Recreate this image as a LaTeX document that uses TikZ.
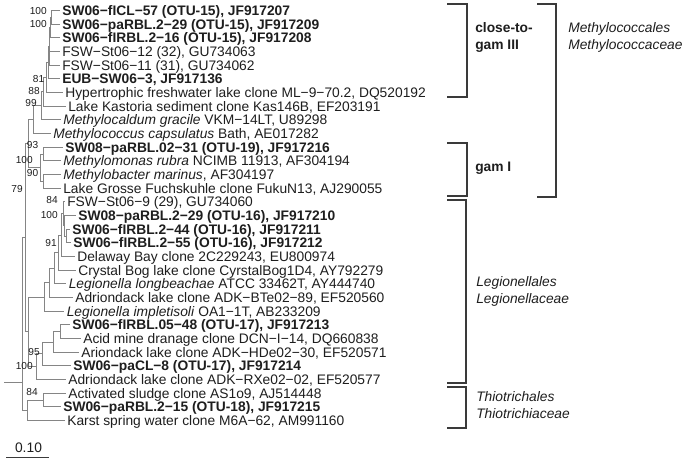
\documentclass[tikz,border=0pt]{standalone}
\usepackage{fontspec}
\setmainfont{Liberation Sans}
\definecolor{txt}{HTML}{1E1E1E}
\definecolor{tree}{HTML}{858585}
\definecolor{brk}{HTML}{3A3A3A}
\tikzset{
  leaf/.style={anchor=west, inner xsep=1.9pt, inner ysep=0pt, text height=7.4pt, text depth=0pt,
    font=\fontsize{10.35}{12}\selectfont, text=txt},
  bleaf/.style={leaf, font=\fontsize{10.35}{12}\selectfont\bfseries},
  boot/.style={anchor=east, inner sep=0pt, text height=5.4pt, text depth=0pt,
    font=\fontsize{7.6}{9}\selectfont, text=txt},
  grp/.style={anchor=west, inner sep=0pt, text height=7.4pt, text depth=0pt,
    font=\fontsize{10.35}{12}\selectfont, text=txt},
  bgrp/.style={grp, font=\fontsize{10.35}{12}\selectfont\bfseries},
  igrp/.style={grp, font=\fontsize{10.35}{12}\selectfont\itshape},
  br/.style={draw=tree, line width=0.75pt},
  bracket/.style={draw=brk, line width=1.5pt},
}
\begin{document}
\begin{tikzpicture}[x=0.75pt, y=-0.75pt]
\fill[white] (0,0) rectangle (686,461);
\useasboundingbox (0,0) rectangle (686,461);

% ---------- leaves ----------
\node[bleaf] (L1)  at (59.5,10.5)  {SW06−fICL−57 (OTU-15), JF917207};
\node[bleaf] (L2)  at (59.5,24.2)  {SW06−paRBL.2−29 (OTU-15), JF917209};
\node[bleaf] (L3)  at (59.5,37.8)  {SW06−fIRBL.2−16 (OTU-15), JF917208};
\node[leaf]  (L4)  at (59.5,51.5)  {FSW−St06−12 (32), GU734063};
\node[leaf]  (L5)  at (59.5,65.2)  {FSW−St06−11 (31), GU734062};
\node[bleaf] (L6)  at (59.5,78.9)  {EUB−SW06−3, JF917136};
\node[leaf]  (L7)  at (62.5,92.5)  {Hypertrophic freshwater lake clone ML−9−70.2, DQ520192};
\node[leaf]  (L8)  at (65.5,106.2) {Lake Kastoria sediment clone Kas146B, EF203191};
\node[leaf]  (L9)  at (60.5,119.9) {\textit{Methylocaldum gracile} VKM−14LT, U89298};
\node[leaf]  (L10) at (50.5,133.5) {\textit{Methylococcus capsulatus} Bath, AE017282};
\node[bleaf] (L11) at (62.5,147.2) {SW08−paRBL.02−31 (OTU-19), JF917216};
\node[leaf]  (L12) at (60.5,160.9) {\textit{Methylomonas rubra} NCIMB 11913, AF304194};
\node[leaf]  (L13) at (60.5,174.5) {\textit{Methylobacter marinus}, AF304197};
\node[leaf]  (L14) at (60.5,188.2) {Lake Grosse Fuchskuhle clone FukuN13, AJ290055};
\node[leaf]  (L15) at (64.5,201.9) {FSW−St06−9 (29), GU734060};
\node[bleaf] (L16) at (75.5,215.6) {SW08−paRBL.2−29 (OTU-16), JF917210};
\node[bleaf] (L17) at (69.5,229.2) {SW06−fIRBL.2−44 (OTU-16), JF917211};
\node[bleaf] (L18) at (70.5,242.9) {SW06−fIRBL.2−55 (OTU-16), JF917212};
\node[leaf]  (L19) at (74.5,256.6) {Delaway Bay clone 2C229243, EU800974};
\node[leaf]  (L20) at (75.5,270.2) {Crystal Bog lake clone CyrstalBog1D4, AY792279};
\node[leaf]  (L21) at (66,283.9)   {\textit{Legionella longbeachae} ATCC 33462T, AY444740};
\node[leaf]  (L22) at (72.5,297.6) {Adriondack lake clone ADK−BTe02−89, EF520560};
\node[leaf]  (L23) at (64,311.2)   {\textit{Legionella impletisoli} OA1−1T, AB233209};
\node[bleaf] (L24) at (69.5,324.9) {SW06−fIRBL.05−48 (OTU-17), JF917213};
\node[leaf]  (L25) at (80.5,338.6) {Acid mine dranage clone DCN−I−14, DQ660838};
\node[leaf]  (L26) at (78.5,352.2) {Ariondack lake clone ADK−HDe02−30, EF520571};
\node[bleaf] (L27) at (70.5,365.9) {SW06−paCL−8 (OTU-17), JF917214};
\node[leaf]  (L28) at (65.5,379.6) {Adriondack lake clone ADK−RXe02−02, EF520577};
\node[leaf]  (L29) at (65.5,393.2) {Activated sludge clone AS1o9, AJ514448};
\node[bleaf] (L30) at (60.5,406.9) {SW06−paRBL.2−15 (OTU-18), JF917215};
\node[leaf]  (L31) at (64.5,420.6) {Karst spring water clone M6A−62, AM991160};

% ---------- internal nodes ----------
\coordinate (Na)    at (51.5,17.35);
\coordinate (Nb)    at (50.5,27.6);
\coordinate (Nc)    at (49.5,46.4);
\coordinate (N81)   at (48.5,62.65);
\coordinate (N88)   at (46,77.6);
\coordinate (N99)   at (43,91.9);
\coordinate (Nmg)   at (41,105.9);
\coordinate (Nmcc)  at (33,119.7);
\coordinate (N93)   at (43,154.05);
\coordinate (N90)   at (43,181.35);
\coordinate (Ng)    at (40.5,167.7);
\coordinate (M)     at (28,143.7);
\coordinate (Nq)    at (66,236.05);
\coordinate (Nl100) at (64.5,225.8);
\coordinate (Nl84)  at (63,213.85);
\coordinate (Nd)    at (61.5,235.2);
\coordinate (Ncb)   at (58.5,252.7);
\coordinate (Nlb)   at (54,268.3);
\coordinate (Nadk)  at (49,282.95);
\coordinate (Nimp)  at (44,297.1);
\coordinate (Nacid) at (60,331.75);
\coordinate (Nhde)  at (53,342);
\coordinate (N95)   at (42.5,353.95);
\coordinate (Nl100b) at (36,366.8);
\coordinate (L)     at (28.5,331.95);
\coordinate (N79)   at (25,237.8);
\coordinate (Nt84)  at (43,400.05);
\coordinate (T)     at (27,410.3);
\coordinate (Root)  at (22,382);
\coordinate (Stem)  at (4,382);

% ---------- branches ----------
\draw[br] (Na) |- (L1.west);  \draw[br] (Na) |- (L2.west);
\draw[br] (Nb) |- (Na);       \draw[br] (Nb) |- (L3.west);
\draw[br] (Nc) |- (Nb);       \draw[br] (Nc) |- (L4.west); \draw[br] (Nc) |- (L5.west);
\draw[br] (N81) |- (Nc);      \draw[br] (N81) |- (L6.west);
\draw[br] (N88) |- (N81);     \draw[br] (N88) |- (L7.west);
\draw[br] (N99) |- (N88);     \draw[br] (N99) |- (L8.west);
\draw[br] (Nmg) |- (N99);     \draw[br] (Nmg) |- (L9.west);
\draw[br] (Nmcc) |- (Nmg);    \draw[br] (Nmcc) |- (L10.west);
\draw[br] (N93) |- (L11.west); \draw[br] (N93) |- (L12.west);
\draw[br] (N90) |- (L13.west); \draw[br] (N90) |- (L14.west);
\draw[br] (Ng) |- (N93);      \draw[br] (Ng) |- (N90);
\draw[br] (M) |- (Nmcc);      \draw[br] (M) |- (Ng);

\draw[br] (Nq) |- (L17.west); \draw[br] (Nq) |- (L18.west);
\draw[br] (Nl100) |- (L16.west); \draw[br] (Nl100) |- (Nq);
\draw[br] (Nl84) |- (L15.west); \draw[br] (Nl84) |- (Nl100);
\draw[br] (Nd) |- (Nl84);     \draw[br] (Nd) |- (L19.west);
\draw[br] (Ncb) |- (Nd);      \draw[br] (Ncb) |- (L20.west);
\draw[br] (Nlb) |- (Ncb);     \draw[br] (Nlb) |- (L21.west);
\draw[br] (Nadk) |- (Nlb);    \draw[br] (Nadk) |- (L22.west);
\draw[br] (Nimp) |- (Nadk);   \draw[br] (Nimp) |- (L23.west);
\draw[br] (Nacid) |- (L24.west); \draw[br] (Nacid) |- (L25.west);
\draw[br] (Nhde) |- (Nacid);  \draw[br] (Nhde) |- (L26.west);
\draw[br] (N95) |- (Nhde);    \draw[br] (N95) |- (L27.west);
\draw[br] (Nl100b) |- (N95);  \draw[br] (Nl100b) |- (L28.west);
\draw[br] (L) |- (Nimp);      \draw[br] (L) |- (Nl100b);

\draw[br] (N79) |- (M);       \draw[br] (N79) |- (L);
\draw[br] (Nt84) |- (L29.west); \draw[br] (Nt84) |- (L30.west);
\draw[br] (T) |- (Nt84);      \draw[br] (T) |- (L31.west);
\draw[br] (Root) |- (N79);    \draw[br] (Root) |- (T);
\draw[br] (Stem) -- (Root);

% ---------- bootstrap values ----------
\node[boot] (b1)  at (47,11)   {100};
\node[boot] (b2)  at (47,24)   {100};
\node[boot] (b3)  at (44.5,79) {81};
\node[boot] (b4)  at (40,91)   {88};
\node[boot] (b5)  at (37,103)  {99};
\node[boot] (b6)  at (38.5,145) {93};
\node[boot] (b7)  at (33,160)  {100};
\node[boot] (b8)  at (38.5,173) {90};
\node[boot] (b9)  at (23,189)  {79};
\node[boot] (b10) at (58,200)  {84};
\node[boot] (b11) at (58,215)  {100};
\node[boot] (b12) at (57,243)  {91};
\node[boot] (b13) at (40,352)  {95};
\node[boot] (b14) at (33,366)  {100};
\node[boot] (b15) at (38,392)  {84};

% ---------- scale bar ----------
\coordinate (s1) at (6,457);
\coordinate (s2) at (49,457);
\draw[draw=brk, line width=0.75pt] (s1) -- (s2);
\node[grp, anchor=center] (sc) at (28.5,448) {0.10};

% ---------- group brackets ----------
\draw[bracket] (447,4) -- (467,4) -- (467,97) -- (447,97);
\draw[bracket] (447,143) -- (467,143) -- (467,196) -- (447,196);
\draw[bracket] (537,4) -- (556,4) -- (556,197) -- (537,197);
\draw[bracket] (447,200) -- (466,200) -- (466,383) -- (447,383);
\draw[bracket] (447,387) -- (466,387) -- (466,428) -- (447,428);

\node[bgrp] (g1) at (475,28) {close-to-};
\node[bgrp] (g2) at (475,45) {gam III};
\node[bgrp] (g3) at (475,167) {gam I};
\node[igrp] (o1) at (568,28) {Methylococcales};
\node[igrp] (o2) at (568,45) {Methylococcaceae};
\node[igrp] (o3) at (476,282) {Legionellales};
\node[igrp] (o4) at (476,299) {Legionellaceae};
\node[igrp] (o5) at (476,397) {Thiotrichales};
\node[igrp] (o6) at (476,414) {Thiotrichiaceae};
\end{tikzpicture}
\end{document}
